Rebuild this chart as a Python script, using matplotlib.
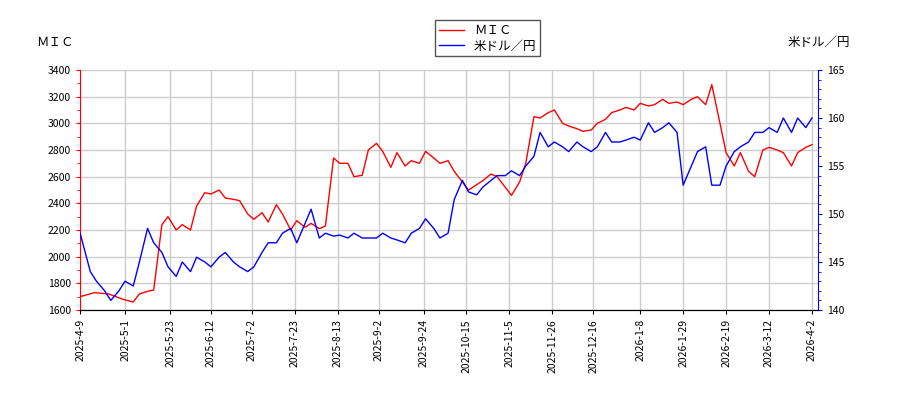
import matplotlib
matplotlib.use("Agg")
import matplotlib.pyplot as plt
import pandas as pd

plt.rcParams['font.family'] = ['Noto Sans CJK JP', 'DejaVu Sans']

mic_dates = ["2025-04-09", "2025-04-16", "2025-04-23", "2025-04-30", "2025-05-05", "2025-05-08",
             "2025-05-12", "2025-05-15", "2025-05-19", "2025-05-22", "2025-05-26", "2025-05-29",
             "2025-06-02", "2025-06-05", "2025-06-09", "2025-06-12", "2025-06-16", "2025-06-19",
             "2025-06-23", "2025-06-26", "2025-06-30", "2025-07-03", "2025-07-07", "2025-07-10",
             "2025-07-14", "2025-07-17", "2025-07-21", "2025-07-24", "2025-07-28", "2025-07-31",
             "2025-08-04", "2025-08-07", "2025-08-11", "2025-08-14", "2025-08-18", "2025-08-21",
             "2025-08-25", "2025-08-28", "2025-09-01", "2025-09-04", "2025-09-08", "2025-09-11",
             "2025-09-15", "2025-09-18", "2025-09-22", "2025-09-25", "2025-09-29", "2025-10-02",
             "2025-10-06", "2025-10-09", "2025-10-13", "2025-10-16", "2025-10-20", "2025-10-23",
             "2025-10-27", "2025-10-30", "2025-11-03", "2025-11-06", "2025-11-10", "2025-11-13",
             "2025-11-17", "2025-11-20", "2025-11-24", "2025-11-27", "2025-12-01", "2025-12-04",
             "2025-12-08", "2025-12-11", "2025-12-15", "2025-12-18", "2025-12-22", "2025-12-25",
             "2025-12-29", "2026-01-01", "2026-01-05", "2026-01-08", "2026-01-12", "2026-01-15",
             "2026-01-19", "2026-01-22", "2026-01-26", "2026-01-29", "2026-02-02", "2026-02-05",
             "2026-02-09", "2026-02-12", "2026-02-16", "2026-02-19", "2026-02-23", "2026-02-26",
             "2026-03-02", "2026-03-05", "2026-03-09", "2026-03-12", "2026-03-16", "2026-03-19",
             "2026-03-23", "2026-03-26", "2026-03-30", "2026-04-02"]
mic_values = [1700, 1730, 1720, 1680, 1660, 1720, 1740, 1750, 2240, 2300, 2200, 2240,
              2200, 2380, 2480, 2470, 2500, 2440, 2430, 2420, 2320, 2280, 2330, 2260,
              2390, 2320, 2200, 2270, 2220, 2250, 2210, 2230, 2740, 2700, 2700, 2600,
              2610, 2800, 2850, 2790, 2670, 2780, 2680, 2720, 2700, 2790, 2740, 2700,
              2720, 2640, 2560, 2500, 2540, 2570, 2620, 2600, 2520, 2460, 2560, 2700,
              3050, 3040, 3080, 3100, 3000, 2980, 2960, 2940, 2950, 3000, 3030, 3080,
              3100, 3120, 3100, 3150, 3130, 3140, 3180, 3150, 3160, 3140, 3180, 3200,
              3140, 3290, 3000, 2780, 2680, 2780, 2640, 2600, 2800, 2820, 2800, 2780,
              2680, 2780, 2820, 2840]

usd_dates = ["2025-04-09", "2025-04-14", "2025-04-17", "2025-04-21", "2025-04-24", "2025-04-28",
             "2025-05-01", "2025-05-05", "2025-05-08", "2025-05-12", "2025-05-15", "2025-05-19",
             "2025-05-22", "2025-05-26", "2025-05-29", "2025-06-02", "2025-06-05", "2025-06-09",
             "2025-06-12", "2025-06-16", "2025-06-19", "2025-06-23", "2025-06-26", "2025-06-30",
             "2025-07-03", "2025-07-07", "2025-07-10", "2025-07-14", "2025-07-17", "2025-07-21",
             "2025-07-24", "2025-07-28", "2025-07-31", "2025-08-04", "2025-08-07", "2025-08-11",
             "2025-08-14", "2025-08-18", "2025-08-21", "2025-08-25", "2025-08-28", "2025-09-01",
             "2025-09-04", "2025-09-08", "2025-09-11", "2025-09-15", "2025-09-18", "2025-09-22",
             "2025-09-25", "2025-09-29", "2025-10-02", "2025-10-06", "2025-10-09", "2025-10-13",
             "2025-10-16", "2025-10-20", "2025-10-23", "2025-10-27", "2025-10-30", "2025-11-03",
             "2025-11-06", "2025-11-10", "2025-11-13", "2025-11-17", "2025-11-20", "2025-11-24",
             "2025-11-27", "2025-12-01", "2025-12-04", "2025-12-08", "2025-12-11", "2025-12-15",
             "2025-12-18", "2025-12-22", "2025-12-25", "2025-12-29", "2026-01-01", "2026-01-05",
             "2026-01-08", "2026-01-12", "2026-01-15", "2026-01-19", "2026-01-22", "2026-01-26",
             "2026-01-29", "2026-02-02", "2026-02-05", "2026-02-09", "2026-02-12", "2026-02-16",
             "2026-02-19", "2026-02-23", "2026-02-26", "2026-03-02", "2026-03-05", "2026-03-09",
             "2026-03-12", "2026-03-16", "2026-03-19", "2026-03-23", "2026-03-26", "2026-03-30",
             "2026-04-02"]
usd_values = [148, 144, 143, 142, 141, 142, 143, 142.5, 145, 148.5, 147, 146,
              144.5, 143.5, 145, 144, 145.5, 145, 144.5, 145.5, 146, 145, 144.5, 144,
              144.5, 146, 147, 147, 148, 148.5, 147, 149, 150.5, 147.5, 148, 147.7,
              147.8, 147.5, 148, 147.5, 147.5, 147.5, 148, 147.5, 147.3, 147, 148, 148.5,
              149.5, 148.5, 147.5, 148, 151.5, 153.5, 152.3, 152, 152.8, 153.5, 154, 154,
              154.5, 154, 155, 156, 158.5, 157, 157.5, 157, 156.5, 157.5, 157, 156.5,
              157, 158.5, 157.5, 157.5, 157.7, 158, 157.7, 159.5, 158.5, 159, 159.5, 158.5,
              153, 155, 156.5, 157, 153, 153, 155, 156.5, 157, 157.5, 158.5, 158.5,
              159, 158.5, 160, 158.5, 160, 159, 160]

tick_dates = ["2025-04-09", "2025-05-01", "2025-05-23", "2025-06-12", "2025-07-02", "2025-07-23",
              "2025-08-13", "2025-09-02", "2025-09-24", "2025-10-15", "2025-11-05", "2025-11-26",
              "2025-12-16", "2026-01-08", "2026-01-29", "2026-02-19", "2026-03-12", "2026-04-02"]

mic = pd.Series(mic_values, index=pd.to_datetime(mic_dates))
usd = pd.Series(usd_values, index=pd.to_datetime(usd_dates))

fig = plt.figure(figsize=(9, 4), dpi=100)
ax = fig.add_axes([0.089, 0.225, 0.82, 0.6])
ax2 = ax.twinx()

l1, = ax.plot(mic.index, mic.values, color="red", lw=1, label="ＭＩＣ")
l2, = ax2.plot(usd.index, usd.values, color="blue", lw=1, label="米ドル／円")

ax.set_ylim(1600, 3400)
ax.set_yticks(range(1600, 3401, 200))
ax2.set_ylim(140, 165)
ax2.set_yticks(range(140, 166, 5))

ticks = pd.to_datetime(tick_dates)
ax.set_xticks(ticks)
ax.set_xticklabels([f"{d.year}-{d.month}-{d.day}" for d in ticks], rotation=90)
ax.set_xlim(pd.Timestamp("2025-04-09"), pd.Timestamp("2026-04-05"))
ax.grid(color="#cccccc", lw=1)

for a in (ax, ax2):
    a.tick_params(labelsize=7.5, length=3)
    a.spines["top"].set_visible(False)
ax.spines["left"].set_color("red")
ax.spines["right"].set_visible(False)
ax2.spines["left"].set_visible(False)
ax2.spines["right"].set_color("blue")
ax.tick_params(axis="y", colors="red", labelcolor="black")
ax2.tick_params(axis="y", colors="blue", labelcolor="black")
ax.yaxis.set_minor_locator(plt.MultipleLocator(100))
ax2.yaxis.set_minor_locator(plt.MultipleLocator(1))
ax.tick_params(axis="y", which="minor", colors="red", length=2)
ax2.tick_params(axis="y", which="minor", colors="blue", length=2)

fig.text(0.04, 0.885, "ＭＩＣ", fontsize=9)
fig.text(0.945, 0.885, "米ドル／円", fontsize=9, ha="right")
fig.legend(handles=[l1, l2], loc="upper center", bbox_to_anchor=(0.542, 0.965),
           fontsize=9, fancybox=False, edgecolor="#555555", framealpha=1,
           handlelength=2, borderpad=0.3, labelspacing=0.2)

fig.savefig("out.png")
